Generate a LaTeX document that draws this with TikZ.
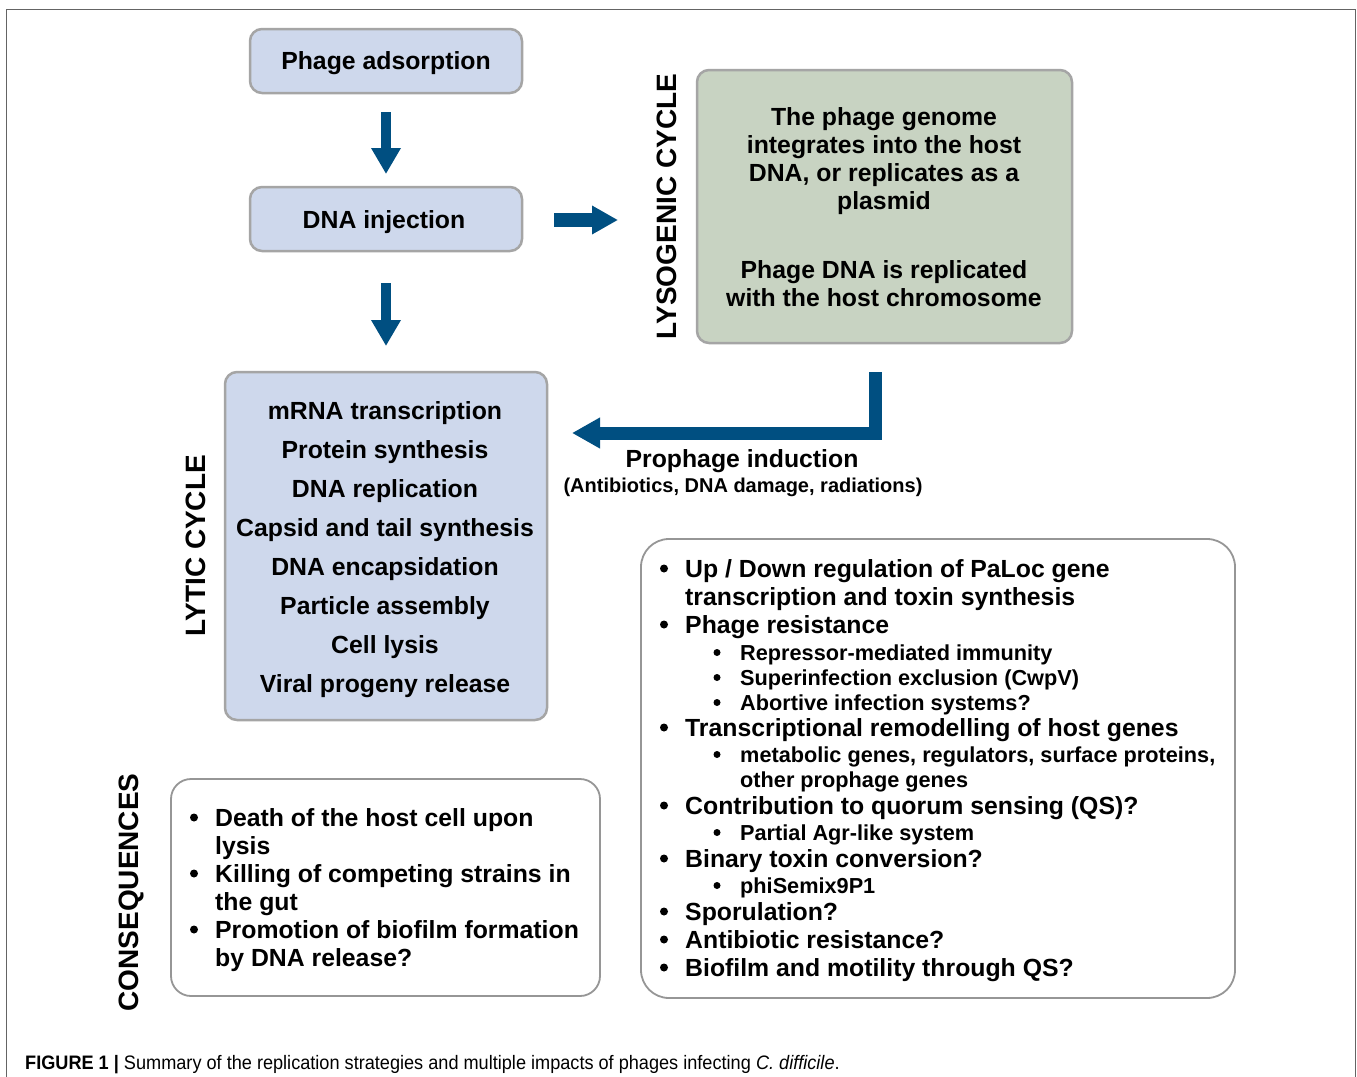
\documentclass[tikz,border=0pt]{standalone}
\usepackage{fontspec}
\setmainfont{Liberation Sans}
\usetikzlibrary{arrows.meta}
\definecolor{boxblue}{RGB}{206,216,236}
\definecolor{boxgreen}{RGB}{200,211,194}
\definecolor{boxline}{RGB}{165,165,165}
\definecolor{wline}{RGB}{150,150,150}
\definecolor{arrowblue}{RGB}{0,79,129}
\definecolor{framecol}{RGB}{100,100,100}
\newcommand{\mainf}{\fontsize{24.8}{28}\selectfont\bfseries}
\newcommand{\subf}{\fontsize{21.7}{25}\selectfont\bfseries}
\newcommand{\labf}{\fontsize{28}{30}\selectfont\bfseries}
\newcommand{\smallf}{\fontsize{20}{24}\selectfont\bfseries}
\begin{document}
\begin{tikzpicture}[x=1pt,y=-1pt,
  colbox/.style={draw=boxline, line width=2.5pt, rounded corners=12pt, rectangle, inner sep=0pt},
  bluebox/.style={colbox, fill=boxblue},
  greenbox/.style={colbox, fill=boxgreen},
  whitebox/.style={draw=wline, line width=1.8pt, fill=white, rectangle, inner sep=0pt},
  ctext/.style={anchor=base, inner sep=0pt, font=\mainf},
  ltext/.style={anchor=base west, inner sep=0pt, font=\mainf},
  stext/.style={anchor=base west, inner sep=0pt, font=\subf},
  bul/.style={circle, fill=black, inner sep=0pt, minimum size=8pt, yshift=8.5pt},
  sbul/.style={circle, fill=black, inner sep=0pt, minimum size=7pt, yshift=7.5pt},
  vlabel/.style={rotate=90, inner sep=0pt, font=\labf},
  downarrow/.style={draw=arrowblue, line width=9.5pt, -{Triangle[width=28pt,length=26pt]}},
  rightarrow/.style={draw=arrowblue, line width=14pt, -{Triangle[width=27pt,length=26pt]}},
  indarrow/.style={draw=arrowblue, line width=13pt, line join=miter, -{Triangle[width=29pt,length=28pt]}},
]
\useasboundingbox (0,0) rectangle (1357,1076);
\fill[white] (0,0) rectangle (1357,1076);
% frame
\draw[framecol, line width=1.3pt] (6.5,1090) -- (6.5,9.5) -- (1355.5,9.5) -- (1355.5,1090);

% boxes
\node[bluebox, minimum width=272pt, minimum height=64pt] (adsorb) at (386,61) {};
\node[bluebox, minimum width=272pt, minimum height=64pt] (inject) at (386,219) {};
\node[greenbox, minimum width=375pt, minimum height=273pt] (lyso) at (884.5,206.5) {};
\node[bluebox, minimum width=322pt, minimum height=348pt] (lytic) at (386,546) {};
\node[whitebox, rounded corners=20pt, minimum width=429pt, minimum height=217pt] (cons) at (385.5,887.5) {};
\node[whitebox, rounded corners=28pt, minimum width=594pt, minimum height=459pt] (impact) at (938,768.5) {};

% arrows
\coordinate (a1s) at (386,112);
\coordinate (a1e) at (386,174);
\coordinate (a2s) at (386,283);
\coordinate (a2e) at (386,346);
\coordinate (a3s) at (554,220);
\coordinate (a3e) at (618,220);
\coordinate (a4s) at (875,372);
\coordinate (a4m) at (875,433);
\coordinate (a4e) at (572,433);
\draw[downarrow] (a1s) -- (a1e);
\draw[downarrow] (a2s) -- (a2e);
\draw[rightarrow] (a3s) -- (a3e);
\draw[indarrow] (a4s) -- (a4m) -- (a4e);

% vertical labels
\node[vlabel] (lysolab) at (667,206.5) {LYSOGENIC CYCLE};
\node[vlabel] (lyticlab) at (196,545.5) {LYTIC CYCLE};
\node[vlabel] (conslab) at (131,892.5) {CONSEQUENCES};

\begin{scope}[yshift=1pt]
% box texts
\node[ctext] (tadsorb) at (386,70) {Phage adsorption};
\node[ctext] (tinject) at (384,229) {DNA injection};

\node[ctext] (ly1) at (884,126) {The phage genome};
\node[ctext] (ly2) at (884,154) {integrates into the host};
\node[ctext] (ly3) at (884,182) {DNA, or replicates as a};
\node[ctext] (ly4) at (884,210) {plasmid};
\node[ctext] (ly5) at (884,279) {Phage DNA is replicated};
\node[ctext] (ly6) at (884,307) {with the host chromosome};

\node[ctext] (lt1) at (385,420) {mRNA transcription};
\node[ctext] (lt2) at (385,459) {Protein synthesis};
\node[ctext] (lt3) at (385,498) {DNA replication};
\node[ctext] (lt4) at (385,537) {Capsid and tail synthesis};
\node[ctext] (lt5) at (385,576) {DNA encapsidation};
\node[ctext] (lt6) at (385,615) {Particle assembly};
\node[ctext] (lt7) at (385,654) {Cell lysis};
\node[ctext] (lt8) at (385,693) {Viral progeny release};

\node[ctext] (indlab) at (742,468) {Prophage induction};
\node[anchor=base, inner sep=0pt, font=\smallf] (indsub) at (743,493) {(Antibiotics, DNA damage, radiations)};

% consequences list
\node[bul] (cb1) at (194,827) {};
\node[ltext] (c1) at (215,827) {Death of the host cell upon};
\node[ltext] (c1b) at (215,855) {lysis};
\node[bul] (cb2) at (194,883) {};
\node[ltext] (c2) at (215,883) {Killing of competing strains in};
\node[ltext] (c2b) at (215,911) {the gut};
\node[bul] (cb3) at (194,939) {};
\node[ltext] (c3) at (215,939) {Promotion of biofilm formation};
\node[ltext] (c3b) at (215,967) {by DNA release?};

% impacts list
\node[bul] (ib1) at (664,578) {};
\node[ltext] (i1) at (685,578) {Up / Down regulation of PaLoc gene};
\node[ltext] (i1b) at (685,606) {transcription and toxin synthesis};
\node[bul] (ib2) at (664,634) {};
\node[ltext] (i2) at (685,634) {Phage resistance};
\node[sbul] (sb1) at (717,661) {};
\node[stext] (s1) at (740,661) {Repressor-mediated immunity};
\node[sbul] (sb2) at (717,686) {};
\node[stext] (s2) at (740,686) {Superinfection exclusion (CwpV)};
\node[sbul] (sb3) at (717,711) {};
\node[stext] (s3) at (740,711) {Abortive infection systems?};
\node[bul] (ib3) at (664,737) {};
\node[ltext] (i3) at (685,737) {Transcriptional remodelling of host genes};
\node[sbul] (sb4) at (717,763) {};
\node[stext] (s4) at (740,763) {metabolic genes, regulators, surface proteins,};
\node[stext] (s4b) at (740,788) {other prophage genes};
\node[bul] (ib4) at (664,815) {};
\node[ltext] (i4) at (685,815) {Contribution to quorum sensing (QS)?};
\node[sbul] (sb5) at (717,841) {};
\node[stext] (s5) at (740,841) {Partial Agr-like system};
\node[bul] (ib5) at (664,868) {};
\node[ltext] (i5) at (685,868) {Binary toxin conversion?};
\node[sbul] (sb6) at (717,894) {};
\node[stext] (s6) at (740,894) {phiSemix9P1};
\node[bul] (ib6) at (664,921) {};
\node[ltext] (i6) at (685,921) {Sporulation?};
\node[bul] (ib7) at (664,949) {};
\node[ltext] (i7) at (685,949) {Antibiotic resistance?};
\node[bul] (ib8) at (664,977) {};
\node[ltext] (i8) at (685,977) {Biofilm and motility through QS?};
\end{scope}

% caption
\node[anchor=base west, inner sep=0pt] (caption) at (25,1069) {\scalebox{0.93}[1]{\fontsize{19.5}{22}\selectfont\textbf{FIGURE 1 |} Summary of the replication strategies and multiple impacts of phages infecting \textit{C. difficile}.}};
\end{tikzpicture}
\end{document}
